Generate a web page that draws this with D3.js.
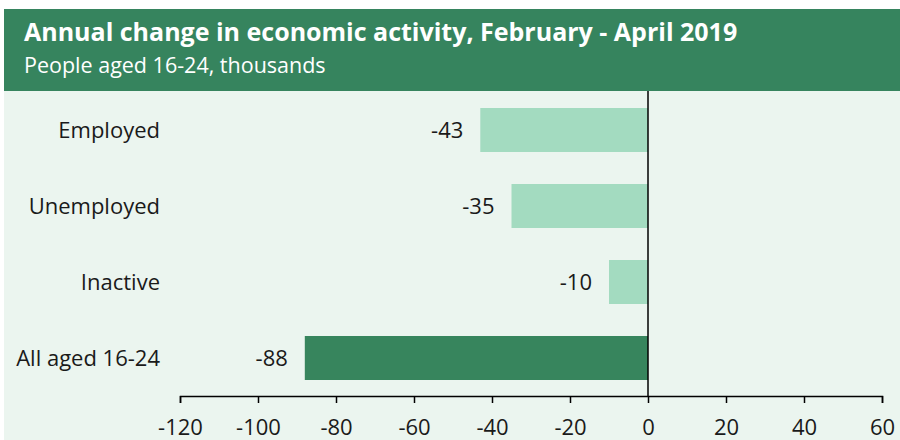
<!DOCTYPE html>
<html>
<head>
<meta charset="utf-8">
<script src="https://cdn.jsdelivr.net/npm/d3@7"></script>
<style>
  body { margin: 0; background: #fff; }
  text { font-family: "Open Sans", "Noto Sans", sans-serif; }
</style>
</head>
<body>
<div id="chart"></div>
<script>
// data
var categories = ["Employed", "Unemployed", "Inactive", "All aged 16-24"];
var values = [-43, -35, -10, -88];
var barColors = ["#a3dbc0", "#a3dbc0", "#a3dbc0", "#37855d"];
var tickValues = [-120, -100, -80, -60, -40, -20, 0, 20, 40, 60];

var svgWidth = 900;
var svgHeight = 440;

var svg = d3.select("#chart")
  .append("svg")
  .attr("width", svgWidth)
  .attr("height", svgHeight);

// panel + header
svg.append("rect")
  .attr("x", 4).attr("y", 9)
  .attr("width", 896).attr("height", 431)
  .attr("fill", "#ebf5ef");
svg.append("rect")
  .attr("x", 4).attr("y", 9)
  .attr("width", 896).attr("height", 82)
  .attr("fill", "#36845e");
svg.append("text")
  .attr("x", 24).attr("y", 41)
  .attr("fill", "#fff")
  .attr("font-size", "25px")
  .attr("font-weight", "bold")
  .text("Annual change in economic activity, February - April 2019");
svg.append("text")
  .attr("x", 24).attr("y", 72.5)
  .attr("fill", "#fff")
  .attr("font-size", "21.5px")
  .text("People aged 16-24, thousands");

// scales
var x = d3.scaleLinear()
  .domain([-120, 60])
  .range([180, 882]);
var y = d3.scaleBand()
  .domain(categories)
  .range([92.8, 395.2])
  .paddingInner(0.421)
  .paddingOuter(0.2);

// bars
svg.selectAll("rect.bar")
  .data(values)
  .enter()
  .append("rect")
  .attr("class", "bar")
  .attr("x", d => x(Math.min(d, 0)))
  .attr("y", (d, i) => y(categories[i]))
  .attr("width", d => Math.abs(x(d) - x(0)))
  .attr("height", y.bandwidth())
  .attr("fill", (d, i) => barColors[i]);

// value labels
svg.selectAll("text.val")
  .data(values)
  .enter()
  .append("text")
  .attr("class", "val")
  .attr("x", d => x(d) - 17)
  .attr("y", (d, i) => y(categories[i]) + y.bandwidth() / 2)
  .attr("dy", "0.35em")
  .attr("text-anchor", "end")
  .attr("font-size", "22px")
  .attr("fill", "#1a1a1a")
  .text(d => d);

// category labels
svg.selectAll("text.cat")
  .data(categories)
  .enter()
  .append("text")
  .attr("class", "cat")
  .attr("x", 160)
  .attr("y", d => y(d) + y.bandwidth() / 2)
  .attr("dy", "0.35em")
  .attr("text-anchor", "end")
  .attr("font-size", "22px")
  .attr("fill", "#1a1a1a")
  .text(d => d);

// zero line
svg.append("line")
  .attr("x1", x(0)).attr("x2", x(0))
  .attr("y1", 91).attr("y2", 396)
  .attr("stroke", "#000")
  .attr("stroke-width", 1.5);

// axis
var axis = svg.append("g")
  .attr("transform", "translate(0,396)")
  .call(d3.axisBottom(x).tickValues(tickValues).tickSize(7).tickSizeOuter(7).tickFormat(d3.format("d")));
axis.select(".domain").attr("stroke", "#000").attr("stroke-width", 1.5);
axis.selectAll(".tick line").attr("stroke", "#000").attr("stroke-width", 1.5);
axis.selectAll(".tick text")
  .attr("font-size", "22px")
  .attr("font-family", "'Open Sans', sans-serif")
  .attr("fill", "#1a1a1a")
  .attr("y", 23)
  .attr("dy", "0.71em")
  .text(d => d < 0 ? "-" + Math.abs(d) : d);
</script>
</body>
</html>
